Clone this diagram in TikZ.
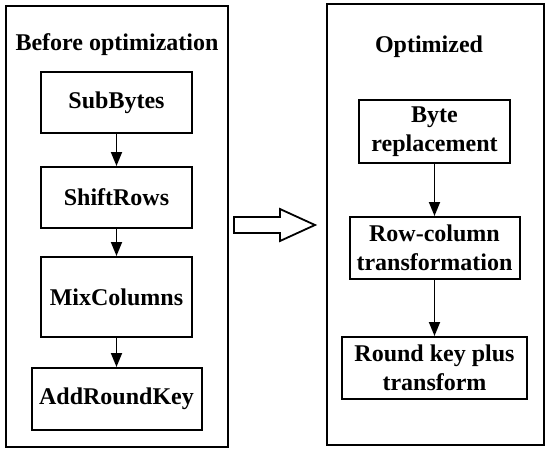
\documentclass[tikz,border=0pt]{standalone}
\usepackage{fontspec}
\setmainfont{Liberation Serif}
\usetikzlibrary{arrows.meta}
\begin{document}
\begin{tikzpicture}[x=1pt,y=-1pt,
  panel/.style={draw,line width=2pt,inner sep=0pt},
  stepbox/.style={draw,line width=2pt,inner sep=0pt,align=center,
    font=\bfseries\fontsize{24}{29}\selectfont},
  ttl/.style={font=\bfseries\fontsize{24}{29}\selectfont,inner sep=0pt},
  flow/.style={line width=1.8pt,-{Triangle[length=14pt,width=11pt]}}]
\useasboundingbox (0,0) rectangle (550,451);
\node[panel,minimum width=222pt,minimum height=441pt] (lp) at (117,226.5) {};
\node[panel,minimum width=217pt,minimum height=441pt] (rp) at (435.5,224.5) {};
\node[ttl] (t1) at (117,45) {Before optimization};
\node[ttl] (t2) at (429,47) {Optimized};
\node[stepbox,minimum width=151pt,minimum height=61pt] (sb) at (116.5,102.5) {SubBytes};
\node[stepbox,minimum width=151pt,minimum height=61pt] (sr) at (116.5,197.5) {ShiftRows};
\node[stepbox,minimum width=151pt,minimum height=80pt] (mc) at (116.5,297) {MixColumns};
\node[stepbox,minimum width=170pt,minimum height=62pt] (ark) at (116.5,399) {AddRoundKey};
\node[stepbox,minimum width=151pt,minimum height=63pt] (br) at (434.5,131.5) {Byte\\replacement};
\node[stepbox,minimum width=170pt,minimum height=62pt] (rc) at (434.5,248) {Row-column\\transformation};
\node[stepbox,minimum width=185pt,minimum height=62pt] (rk) at (434.5,368) {Round key plus\\transform};
\draw[flow] (sb) -- (sr);
\draw[flow] (sr) -- (mc);
\draw[flow] (mc) -- (ark);
\draw[flow] (br) -- (rc);
\draw[flow] (rc) -- (rk);
\draw[line width=1.8pt,line join=miter]
  (234,217) -- (280,217) -- (280,209) -- (315,225) -- (280,241) -- (280,233) -- (234,233) -- cycle;
\end{tikzpicture}
\end{document}
